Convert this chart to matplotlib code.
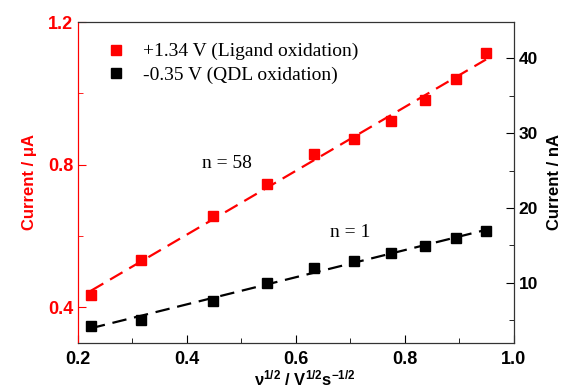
import numpy as np
import matplotlib
matplotlib.use('Agg')
import matplotlib.pyplot as plt
from matplotlib.ticker import MultipleLocator

plt.rcParams['font.family'] = ['Liberation Sans', 'DejaVu Sans']
plt.rcParams['mathtext.fontset'] = 'custom'
plt.rcParams['mathtext.bf'] = 'Liberation Sans:bold'
plt.rcParams['mathtext.rm'] = 'Liberation Sans:bold'
plt.rcParams['mathtext.default'] = 'bf'

# sqrt of scan rate (V^1/2 s^-1/2)
x = np.sqrt([0.05, 0.1, 0.2, 0.3, 0.4, 0.5, 0.6, 0.7, 0.8, 0.9])
# ligand oxidation current, uA
ligand = [0.434, 0.532, 0.655, 0.746, 0.829, 0.872, 0.922, 0.981, 1.040, 1.113]
# QDL oxidation current, nA
qdl = [4.3, 5.1, 7.6, 10.0, 12.0, 12.9, 14.0, 14.9, 16.0, 16.9]

red = '#ff0000'
serif = ['Liberation Serif', 'DejaVu Serif']

fig = plt.figure(figsize=(5.64, 3.91), dpi=100)
ax = fig.add_axes([0.1383, 0.1228, 0.773, 0.8209])
ax2 = ax.twinx()

# linear fits
p1 = np.poly1d(np.polyfit(x, ligand, 1))
p2 = np.poly1d(np.polyfit(x, qdl, 1))

h1, = ax.plot(x, ligand, 's', color=red, ms=7.5, label='+1.34 V (Ligand oxidation)')
ax.plot(x, p1(x), '--', color=red, lw=1.6, dashes=(6.5, 3.5))
h2, = ax2.plot(x, qdl, 's', color='black', ms=7.5, label='-0.35 V (QDL oxidation)')
ax2.plot(x, p2(x), '--', color='black', lw=1.6, dashes=(6.5, 3.5))

ax.set_xlim(0.2, 1.0)
ax.set_ylim(0.3, 1.2)
ax2.set_ylim(2, 44.8)

ax.xaxis.set_major_locator(MultipleLocator(0.2))
ax.xaxis.set_minor_locator(MultipleLocator(0.1))
ax.yaxis.set_major_locator(MultipleLocator(0.4))
ax.yaxis.set_minor_locator(MultipleLocator(0.2))
ax2.yaxis.set_major_locator(MultipleLocator(10))
ax2.yaxis.set_minor_locator(MultipleLocator(5))

ax.tick_params(axis='x', which='both', direction='in', labelsize=13, pad=6)
ax.tick_params(axis='x', which='major', length=6)
ax.tick_params(axis='x', which='minor', length=3.5)
ax.tick_params(axis='y', which='both', direction='in', colors=red, labelsize=13)
ax.tick_params(axis='y', which='major', length=6)
ax.tick_params(axis='y', which='minor', length=3.5)
ax2.tick_params(axis='y', which='both', direction='in', labelsize=12.5)
ax2.tick_params(axis='y', which='major', length=6)
ax2.tick_params(axis='y', which='minor', length=3.5)
for lab in ax.get_xticklabels() + ax.get_yticklabels() + ax2.get_yticklabels():
    lab.set_fontweight('bold')

ax2.spines['left'].set_color(red)
ax.spines['left'].set_color(red)
for s in ['top', 'right', 'bottom']:
    ax2.spines[s].set_color('#333333')

ax.set_ylabel('Current / μA', color=red, fontsize=12, fontweight='bold', labelpad=8)
ax2.set_ylabel('Current / nA', fontsize=12, fontweight='bold', labelpad=6)
ax.set_xlabel(r'ν$^{1/2}$ / V$^{1/2}$s$^{-1/2}$', fontsize=12, fontweight='bold', labelpad=0)
ax.xaxis.label.set_x(0.52)

ax2.text(0.473, 0.804, 'n = 58', fontsize=14, family=serif, ha='center', va='center',
         transform=ax.transData)
ax2.text(0.699, 16.7, 'n = 1', fontsize=14, family=serif, ha='center', va='center')

ax2.legend(handles=[h1, h2], loc='upper left', bbox_to_anchor=(0.025, 0.99), frameon=False,
           prop={'family': serif, 'size': 14}, handletextpad=0.9, labelspacing=0.3,
           handlelength=1.0)

fig.savefig('out.png', dpi=100)
